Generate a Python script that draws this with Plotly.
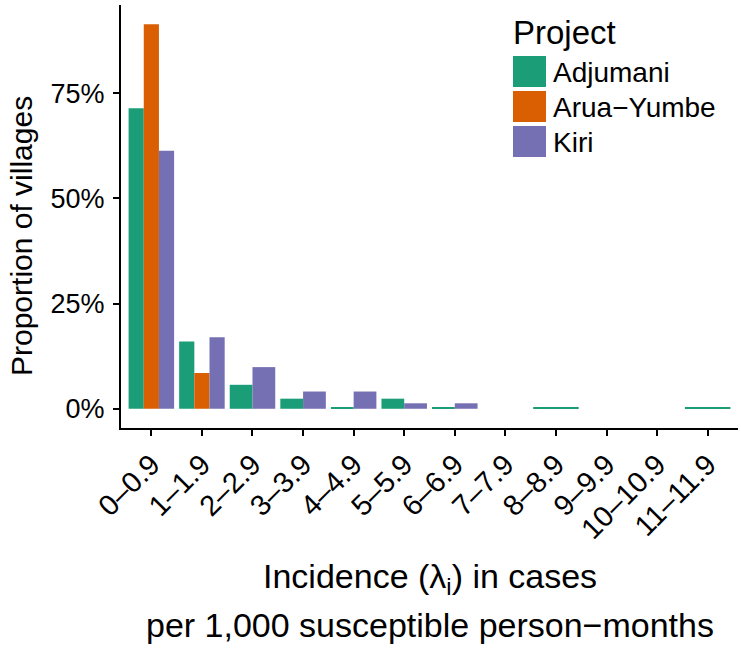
import plotly.graph_objects as go

categories = ["0–0.9", "1–1.9", "2–2.9", "3–3.9", "4–4.9", "5–5.9",
              "6–6.9", "7–7.9", "8–8.9", "9–9.9", "10–10.9", "11–11.9"]
adjumani = [71.4, 16.0, 5.7, 2.4, 0.4, 2.4, 0.4, None, 0.4, None, None, 0.4]
arua_yumbe = [91.4, 8.5, None, None, None, None, None, None, None, None, None, None]
kiri = [61.3, 17.0, 9.9, 4.1, 4.1, 1.3, 1.3, None, None, None, None, None]
projects = ["Adjumani", "Arua−Yumbe", "Kiri"]
colors = ["#1B9E77", "#D95F02", "#7570B3"]
yticks = [0, 25, 50, 75]
yticklabels = ["0%", "25%", "50%", "75%"]

series = [adjumani, arua_yumbe, kiri]
FONT = "Liberation Sans, Arial, Helvetica, sans-serif"

W, H = 741, 659
L, R, T, B = 121, 3, 5, 231
pw, ph = W - L - R, H - T - B


def px_x(p):
    return (p - L) / pw


def px_y(p):
    return (H - B - p) / ph


# ggplot-like dodge: present bars share the 0.9 category width
n_present = [sum(1 for s in series if s[i] is not None) for i in range(len(categories))]
fig = go.Figure()
for k, (name, vals, col) in enumerate(zip(projects, series, colors)):
    xs, ys, offs, wids = [], [], [], []
    for i, v in enumerate(vals):
        if v is None:
            continue
        pos = sum(1 for s in series[:k] if s[i] is not None)
        w = 0.9 / n_present[i]
        xs.append(categories[i])
        ys.append(v)
        wids.append(w)
        offs.append(-0.45 + pos * w)
    fig.add_trace(go.Bar(x=xs, y=ys, width=wids, offset=offs, name=name,
                         marker=dict(color=col, line=dict(width=0)),
                         showlegend=False))

ymax = max(v for s in series for v in s if v is not None)
pad = ymax * 0.05

fig.update_layout(
    width=W, height=H, margin=dict(l=L, r=R, t=T, b=B, autoexpand=False),
    paper_bgcolor="white", plot_bgcolor="white",
    barmode="overlay", font=dict(family=FONT, color="black"),
    xaxis=dict(type="category", categoryorder="array", categoryarray=categories,
               range=[-0.6, len(categories) - 0.4], showline=True, linecolor="black",
               linewidth=2, ticks="outside", ticklen=6, tickwidth=2, tickcolor="black",
               tickangle=-45, tickfont=dict(size=29, family=FONT, color="black"),
               showgrid=False, zeroline=False, automargin=False),
    yaxis=dict(range=[-pad, ymax + pad], tickvals=yticks, ticktext=yticklabels,
               showline=True, linecolor="black", linewidth=2, ticks="outside",
               ticklen=6, tickwidth=2, tickcolor="black", ticklabelstandoff=3,
               tickfont=dict(size=27, family=FONT, color="black"),
               showgrid=False, zeroline=False, automargin=False),
)

ann = []
ann.append(dict(text="Proportion of villages", textangle=-90, xref="paper", yref="paper",
                x=px_x(21), y=px_y(236), xanchor="center", yanchor="middle",
                showarrow=False, font=dict(size=30, family=FONT, color="black")))
ann.append(dict(text="Incidence (λ<sub>i</sub>) in cases", xref="paper", yref="paper",
                x=0.5, y=px_y(578), xanchor="center", yanchor="middle",
                showarrow=False, font=dict(size=34, family=FONT, color="black")))
ann.append(dict(text="per 1,000 susceptible person−months", xref="paper", yref="paper",
                x=0.5, y=px_y(625), xanchor="center", yanchor="middle",
                showarrow=False, font=dict(size=34, family=FONT, color="black")))
ann.append(dict(text="Project", xref="paper", yref="paper",
                x=px_x(511), y=px_y(33), xanchor="left", yanchor="middle",
                showarrow=False, font=dict(size=33, family=FONT, color="black")))

shapes = []
key_tops = [56, 91, 126]
for name, col, top in zip(projects, colors, key_tops):
    shapes.append(dict(type="rect", xref="paper", yref="paper",
                       x0=px_x(513), x1=px_x(546), y0=px_y(top), y1=px_y(top + 31),
                       fillcolor=col, line=dict(width=0)))
    ann.append(dict(text=name, xref="paper", yref="paper",
                    x=px_x(551), y=px_y(top + 16), xanchor="left", yanchor="middle",
                    showarrow=False, font=dict(size=28, family=FONT, color="black")))

fig.update_layout(annotations=ann, shapes=shapes)
fig.write_html("out.html", config={"displayModeBar": False},
               post_script="document.body.style.margin='0';")
